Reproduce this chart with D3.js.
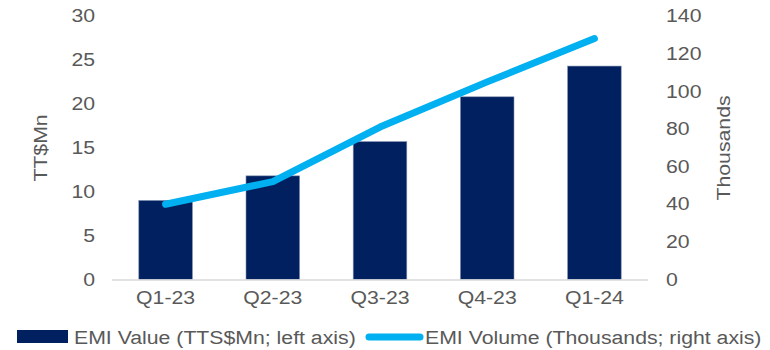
<!DOCTYPE html>
<html><head><meta charset="utf-8">
<script src="https://cdn.jsdelivr.net/npm/d3@7"></script>
<style>body{margin:0;background:#fff}text{font-family:"Liberation Sans",Arial,sans-serif;fill:#595959}</style>
</head><body><svg id="c" width="770" height="350"></svg>
<script>
const categories = ["Q1-23","Q2-23","Q3-23","Q4-23","Q1-24"];
const emiValue = [9.0, 11.8, 15.7, 20.8, 24.3];
const emiVolume = [40, 52, 81, 105, 128];
const leftTicks = [0,5,10,15,20,25,30];
const rightTicks = [0,20,40,60,80,100,120,140];

const STRETCH = 1.18;
function stretch(sel){
  sel.each(function(){
    const w = this.getComputedTextLength();
    d3.select(this).attr("textLength", w*STRETCH).attr("lengthAdjust","spacingAndGlyphs");
  });
}

const svg = d3.select("#c");
const x = d3.scaleBand().domain(categories).range([112, 648]).paddingInner(0.5).paddingOuter(0.25);
const yL = d3.scaleLinear().domain([0,30]).range([279.5, 16]);
const yR = d3.scaleLinear().domain([0,140]).range([279.5, 16]);

svg.selectAll("rect.bar").data(categories).join("rect")
  .attr("x", d => x(d)).attr("width", x.bandwidth())
  .attr("y", (d,i) => yL(emiValue[i])).attr("height", (d,i) => yL(0) - yL(emiValue[i]))
  .attr("fill", "#002060").attr("stroke", "#8090b0").attr("stroke-width", 0.6);

svg.append("line").attr("x1",112).attr("x2",648).attr("y1",yL(0)+0.5).attr("y2",yL(0)+0.5)
  .attr("stroke","#d9d9d9").attr("stroke-width",1.5);

const line = d3.line().x((d,i) => x(categories[i]) + x.bandwidth()/2).y(d => yR(d));
svg.append("path").datum(emiVolume).attr("d", line).attr("fill","none")
  .attr("stroke","#00b0f0").attr("stroke-width",7).attr("stroke-linecap","round").attr("stroke-linejoin","round");

function styleAxis(g){
  g.select(".domain").remove();
  g.selectAll("text").attr("font-size",18).attr("fill","#595959").attr("font-family","Liberation Sans, Arial, sans-serif");
}
const gL = svg.append("g").attr("transform","translate(95,0)").call(d3.axisLeft(yL).tickValues(leftTicks).tickSize(0).tickPadding(0));
styleAxis(gL); stretch(gL.selectAll("text"));
const gR = svg.append("g").attr("transform","translate(666,0)").call(d3.axisRight(yR).tickValues(rightTicks).tickSize(0).tickPadding(0));
styleAxis(gR); stretch(gR.selectAll("text"));
const gX = svg.append("g").attr("transform","translate(0,291)").call(d3.axisBottom(x).tickSize(0).tickPadding(0));
styleAxis(gX); stretch(gX.selectAll("text"));

const t1 = svg.append("text").attr("transform","translate(47,148) rotate(-90)").attr("text-anchor","middle")
  .attr("font-size",18).text("TT$Mn");
const t2 = svg.append("text").attr("transform","translate(730,148) rotate(-90)").attr("text-anchor","middle")
  .attr("font-size",18).text("Thousands");
stretch(t1); stretch(t2);

const lg = svg.append("g");
lg.append("rect").attr("x",17).attr("y",330).attr("width",51).attr("height",13).attr("fill","#002060");
const l1 = lg.append("text").attr("x",74).attr("y",343.5).attr("font-size",18).text("EMI Value (TTS$Mn; left axis)");
lg.append("line").attr("x1",369).attr("x2",420).attr("y1",337).attr("y2",337)
  .attr("stroke","#00b0f0").attr("stroke-width",7).attr("stroke-linecap","round");
const l2 = lg.append("text").attr("x",425).attr("y",343.5).attr("font-size",18).text("EMI Volume (Thousands; right axis)");
stretch(l1); stretch(l2);
</script></body></html>
